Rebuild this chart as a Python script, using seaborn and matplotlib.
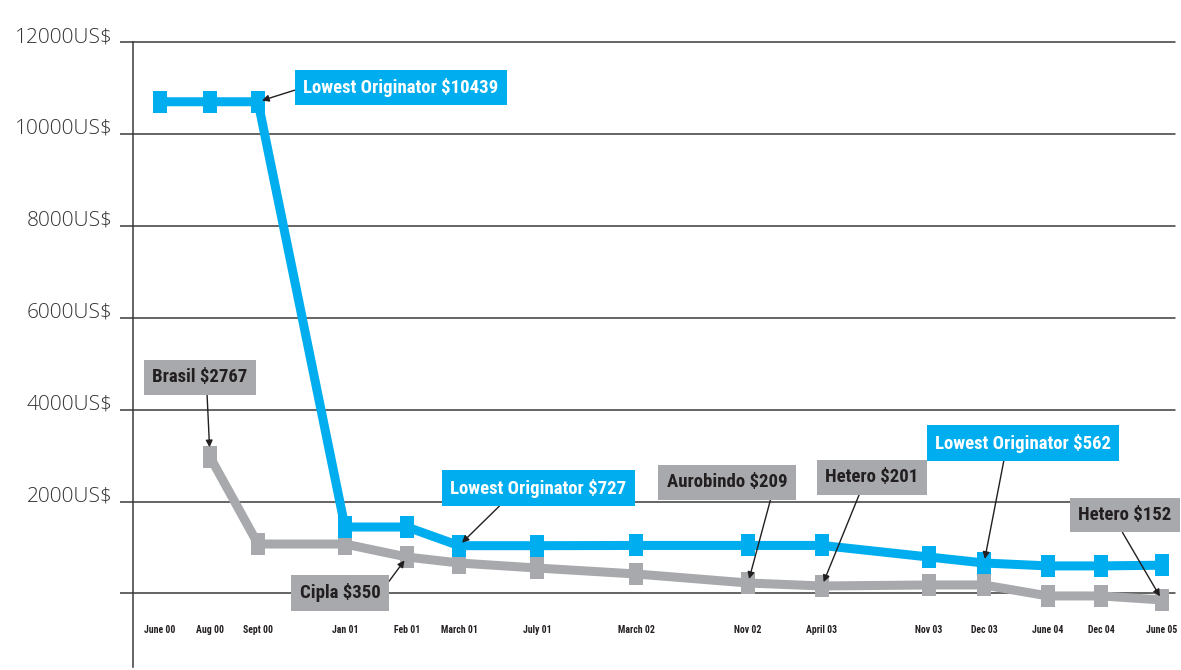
import matplotlib
matplotlib.use("Agg")
import matplotlib.pyplot as plt
from matplotlib import font_manager as fm
import seaborn as sns
import numpy as np
import pandas as pd

# ---- data -------------------------------------------------------------
periods = ["June 00", "Aug 00", "Sept 00", "Jan 01", "Feb 01", "March 01",
           "July 01", "March 02", "Nov 02", "April 03", "Nov 03", "Dec 03",
           "June 04", "Dec 04", "June 05"]
# position of each period on the chart's (irregular) time axis
period_pos = [160, 210, 258, 345, 407, 459, 537, 636, 748, 822, 929, 984,
              1048, 1101, 1162]
# values as drawn in the picture (US$)
originator = [10700, 10700, 10700, 1446, 1446, 1040, 1040, 1045, 1045, 1045,
              793, 663, 600, 600, 615]
generic = [np.nan, 2970, 1076, 1076, 793, 663, 554, 424, 228, 163, 185, 185,
           -54, -54, -141]
y_ticks = [0, 2000, 4000, 6000, 8000, 10000, 12000]
y_tick_labels = ["", "2000US$", "4000US$", "6000US$", "8000US$",
                 "10000US$", "12000US$"]

# labels: (text, series, period index, text x, text y, arrow start on box)
callouts = [
    ("Lowest Originator $10439", "originator", 2, 401, 11011, (0.0, 0.5)),
    ("Brasil $2767", "generic", 1, 200, 4707, (0.57, 0.0)),
    ("Lowest Originator $727", "originator", 5, 538, 2294, (0.33, 0.0)),
    ("Cipla $350", "generic", 4, 340, 11, (1.0, 0.5)),
    ("Aurobindo $209", "generic", 8, 727, 2424, (0.88, 0.0)),
    ("Hetero $201", "generic", 9, 872, 2533, (0.4, 0.0)),
    ("Lowest Originator $562", "originator", 11, 1023, 3272, (0.4, 0.0)),
    ("Hetero $152", "generic", 14, 1125, 1707, (0.42, 0.0)),
]

BLUE = "#00AEEF"
GRAY = "#A7A9AC"
DARK = "#231F20"
GRID = "#3a3a3a"

df = pd.DataFrame({"period": periods, "pos": period_pos,
                   "originator": originator, "generic": generic})

sns.set_theme(style="white")

# pick a condensed face if one is installed
ttf = fm.fontManager.ttflist
names = {f.name for f in ttf}
cond_family = None
cond_stretch = "normal"
for n in ["Liberation Sans Narrow", "Roboto Condensed", "Open Sans Condensed",
          "Noto Sans Condensed", "DejaVu Sans Condensed"]:
    if n in names:
        cond_family = n
        break
if cond_family is None:
    for n in ["Roboto", "Noto Sans", "Open Sans", "DejaVu Sans", "Inter"]:
        if any(f.name == n and f.stretch in ("condensed", "semi-condensed",
                                             "extra-condensed", 75, 87)
               for f in ttf):
            cond_family = n
            cond_stretch = "condensed"
            break
if cond_family is None:
    cond_family = "Roboto"
plt.rcParams["font.family"] = [cond_family, "DejaVu Sans"]

fig = plt.figure(figsize=(11.81, 6.70), dpi=100)
ax = fig.add_axes([133 / 1181, 3 / 670, (1175 - 133) / 1181, (667 - 42) / 670])

rect_marker = [(-0.31, -0.5), (0.31, -0.5), (0.31, 0.5), (-0.31, 0.5), (-0.31, -0.5)]

g = df.dropna(subset=["generic"])
sns.lineplot(data=g, x="pos", y="generic", ax=ax, color=GRAY, linewidth=6.5,
             marker=rect_marker, markersize=16, markeredgewidth=0,
             sort=False, zorder=3)
sns.lineplot(data=df, x="pos", y="originator", ax=ax, color=BLUE, linewidth=6.5,
             marker=rect_marker, markersize=16, markeredgewidth=0,
             sort=False, zorder=4)

ax.set_xlim(133, 1175)
ax.set_ylim(-1600, 12000)
ax.set_xlabel("")
ax.set_ylabel("")

# y axis
ax.set_yticks(y_ticks)
ax.set_yticklabels(y_tick_labels, va="baseline", fontsize=15,
                   color="#333333", family=["Open Sans", "DejaVu Sans"],
                   fontweight="light")
ax.tick_params(axis="y", length=9.4, width=1.1, color=GRID, pad=5.5, left=True)
ax.yaxis.grid(True, color=GRID, linewidth=1.1)
ax.set_axisbelow(True)
for gl in ax.get_ygridlines():
    gl.set_clip_on(False)

# x axis labels
ax.set_xticks(period_pos)
ax.set_xticklabels(periods, fontsize=7, fontweight="bold", color=DARK,
                   fontstretch=cond_stretch)
ax.tick_params(axis="x", length=0, pad=-30)

for s in ["top", "right", "bottom"]:
    ax.spines[s].set_visible(False)
ax.spines["left"].set_color(GRID)
ax.spines["left"].set_linewidth(1.1)

series = {"originator": originator, "generic": generic}
for text, ser, idx, tx, ty, rel in callouts:
    is_blue = ser == "originator"
    fc = BLUE if is_blue else GRAY
    tc = "white" if is_blue else DARK
    ax.annotate(text, xy=(period_pos[idx], series[ser][idx]), xytext=(tx, ty),
                ha="center", va="center", fontsize=13.5, fontweight="bold",
                fontstretch=cond_stretch, color=tc, zorder=6,
                bbox=dict(boxstyle="square,pad=0.45", fc=fc, ec="none"),
                arrowprops=dict(arrowstyle="-|>", color=DARK, lw=1.0,
                                mutation_scale=10, shrinkA=0, relpos=rel,
                                shrinkB=7 if text.startswith("Brasil") else 3))

fig.savefig("out.png", dpi=100)
